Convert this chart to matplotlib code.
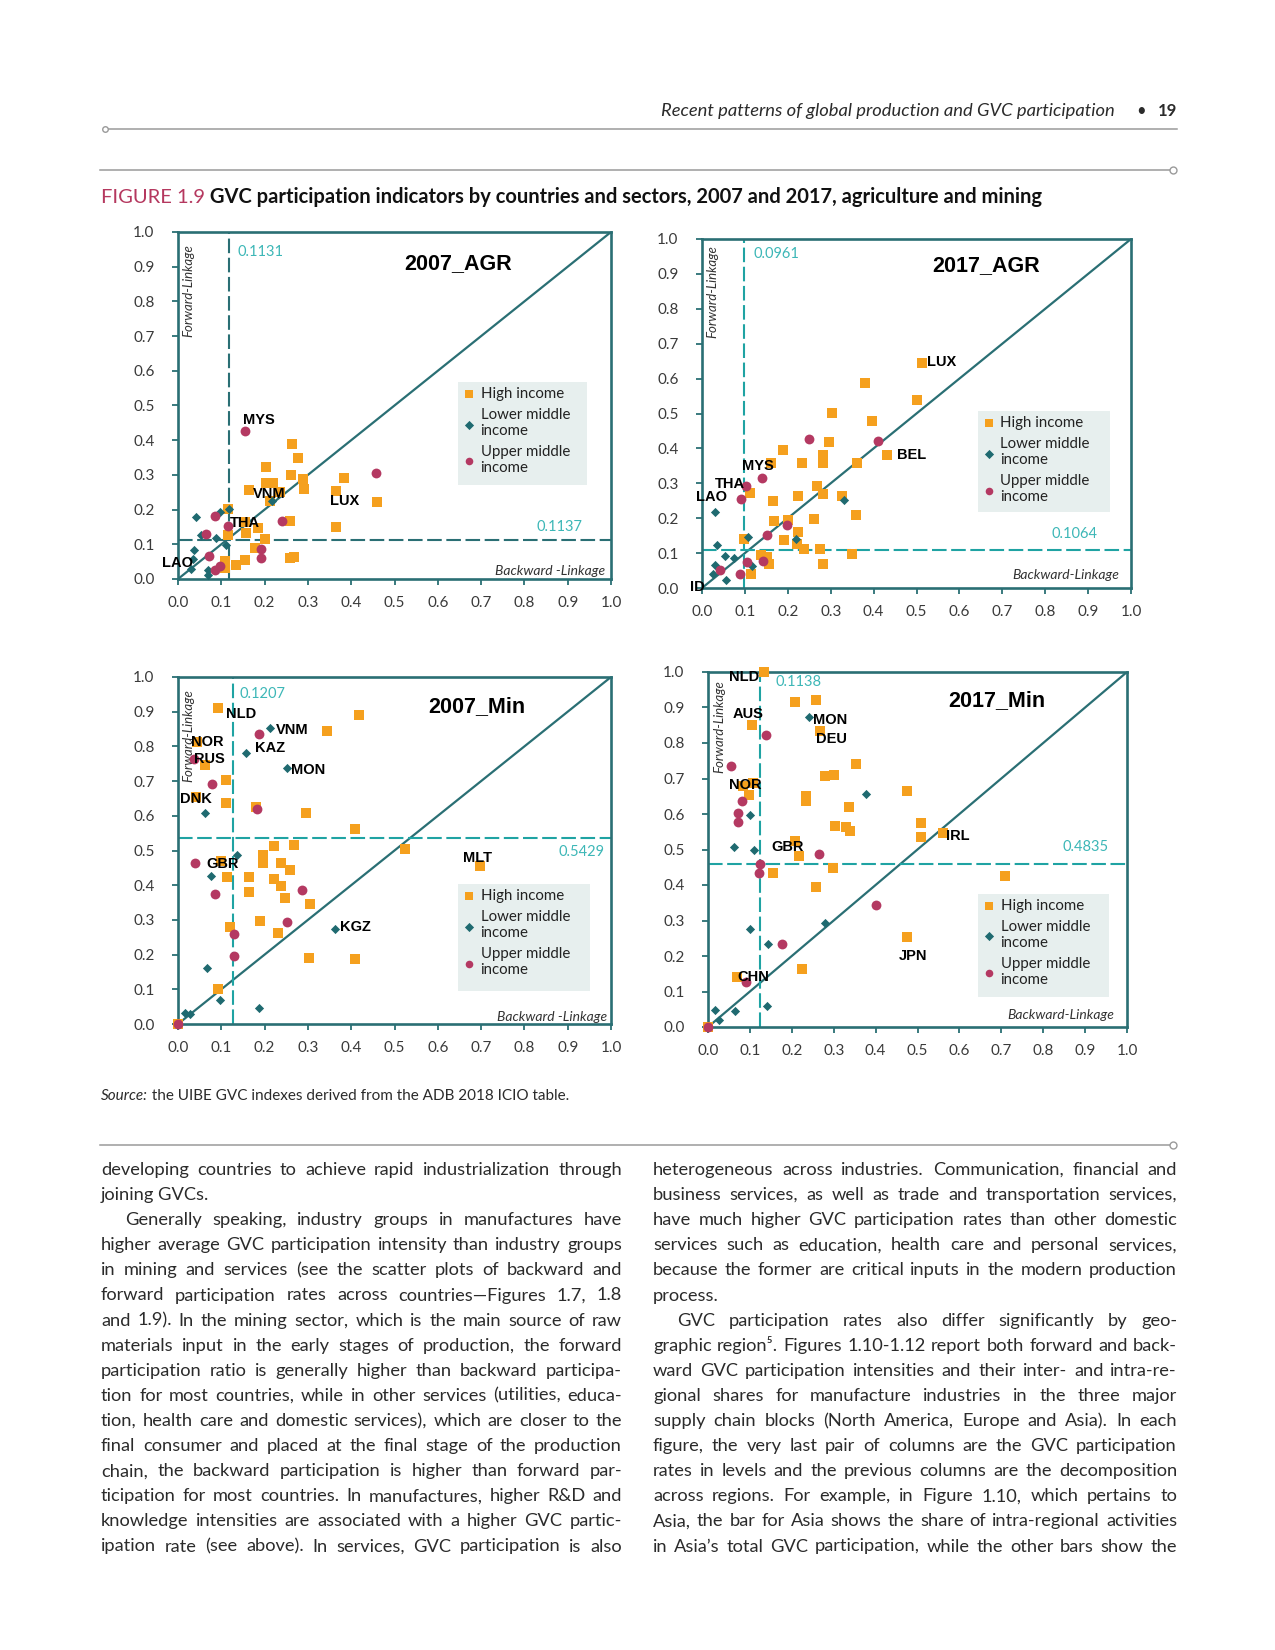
import numpy as np
import matplotlib
matplotlib.use("Agg")
import matplotlib.pyplot as plt
from matplotlib.patches import Rectangle

plt.rcParams['font.family'] = ['Lato', 'DejaVu Sans']

W, H = 1275, 1650

# ---------------- data ----------------
# 2007 agriculture
agr07_high_x = [0.264, 0.278, 0.204, 0.260, 0.204, 0.219, 0.288, 0.292, 0.165, 0.212, 0.235, 0.115, 0.154, 0.185,
                0.258, 0.115, 0.158, 0.200, 0.177, 0.258, 0.269, 0.154, 0.133, 0.108, 0.108, 0.383, 0.364, 0.364, 0.460]
agr07_high_y = [0.390, 0.349, 0.323, 0.301, 0.277, 0.277, 0.287, 0.258, 0.256, 0.224, 0.250, 0.202, 0.163, 0.147,
                0.166, 0.128, 0.133, 0.115, 0.089, 0.061, 0.063, 0.056, 0.041, 0.032, 0.052, 0.291, 0.253, 0.150, 0.221]
agr07_low_x = [0.042, 0.096, 0.118, 0.052, 0.087, 0.112, 0.036, 0.035, 0.031, 0.069, 0.069, 0.218]
agr07_low_y = [0.178, 0.192, 0.202, 0.128, 0.118, 0.099, 0.085, 0.059, 0.029, 0.027, 0.012, 0.224]
agr07_up_x = [0.155, 0.458, 0.085, 0.064, 0.115, 0.241, 0.192, 0.192, 0.072, 0.085, 0.096]
agr07_up_y = [0.426, 0.306, 0.181, 0.130, 0.152, 0.166, 0.087, 0.061, 0.065, 0.027, 0.037]
agr07_names = [("MYS", 0.150, 0.458), ("VNM", 0.173, 0.246), ("THA", 0.119, 0.160),
               ("LUX", 0.350, 0.224), ("LAO", -0.038, 0.046)]

# 2017 agriculture
agr17_high_x = [0.512, 0.379, 0.500, 0.304, 0.396, 0.295, 0.189, 0.283, 0.161, 0.233, 0.281, 0.361, 0.431, 0.269,
                0.111, 0.223, 0.283, 0.326, 0.165, 0.359, 0.167, 0.200, 0.262, 0.223, 0.190, 0.097, 0.221, 0.237,
                0.274, 0.137, 0.151, 0.157, 0.349, 0.282, 0.114]
agr17_high_y = [0.645, 0.586, 0.540, 0.502, 0.479, 0.419, 0.395, 0.381, 0.359, 0.359, 0.357, 0.357, 0.382, 0.293,
                0.271, 0.264, 0.268, 0.264, 0.249, 0.208, 0.192, 0.196, 0.197, 0.161, 0.137, 0.141, 0.127, 0.113,
                0.113, 0.094, 0.089, 0.070, 0.097, 0.068, 0.041]
agr17_low_x = [0.031, 0.035, 0.054, 0.074, 0.031, 0.025, 0.057, 0.107, 0.116, 0.220, 0.332]
agr17_low_y = [0.218, 0.122, 0.091, 0.087, 0.065, 0.039, 0.023, 0.146, 0.063, 0.139, 0.253]
agr17_up_x = [0.249, 0.411, 0.140, 0.103, 0.091, 0.151, 0.198, 0.105, 0.142, 0.088, 0.043]
agr17_up_y = [0.426, 0.422, 0.315, 0.292, 0.256, 0.153, 0.180, 0.075, 0.077, 0.041, 0.051]
agr17_names = [("LUX", 0.524, 0.648), ("BEL", 0.454, 0.382), ("MYS", 0.093, 0.350),
               ("THA", 0.029, 0.299), ("LAO", -0.013, 0.261), ("ID", -0.029, 0.003)]

# 2007 mining
min07_high_x = [0.092, 0.418, 0.344, 0.044, 0.063, 0.112, 0.042, 0.112, 0.181, 0.296, 0.408, 0.525, 0.698, 0.100,
                0.221, 0.268, 0.196, 0.196, 0.238, 0.259, 0.114, 0.165, 0.222, 0.238, 0.165, 0.246, 0.305, 0.190,
                0.119, 0.232, 0.302, 0.408, 0.092, 0.000]
min07_high_y = [0.912, 0.890, 0.845, 0.813, 0.746, 0.702, 0.655, 0.637, 0.626, 0.608, 0.561, 0.504, 0.455, 0.470,
                0.512, 0.515, 0.488, 0.463, 0.464, 0.443, 0.424, 0.424, 0.417, 0.398, 0.381, 0.364, 0.345, 0.297,
                0.280, 0.263, 0.191, 0.187, 0.100, 0.000]
min07_low_x = [0.213, 0.156, 0.252, 0.062, 0.136, 0.077, 0.363, 0.068, 0.096, 0.017, 0.027, 0.186]
min07_low_y = [0.854, 0.781, 0.738, 0.607, 0.488, 0.426, 0.274, 0.160, 0.069, 0.033, 0.029, 0.047]
min07_up_x = [0.186, 0.078, 0.183, 0.040, 0.085, 0.287, 0.252, 0.129, 0.129, 0.000, 0.038]
min07_up_y = [0.837, 0.691, 0.621, 0.464, 0.376, 0.386, 0.293, 0.259, 0.197, 0.000, 0.765]
min07_names = [("NLD", 0.110, 0.894), ("VNM", 0.227, 0.848), ("NOR", 0.031, 0.813), ("RUS", 0.036, 0.765),
               ("KAZ", 0.178, 0.794), ("MON", 0.262, 0.731), ("DNK", 0.004, 0.647), ("GBR", 0.065, 0.460),
               ("MLT", 0.659, 0.477), ("KGZ", 0.375, 0.280)]

# 2017 mining
min17_high_x = [0.134, 0.208, 0.258, 0.104, 0.268, 0.354, 0.280, 0.300, 0.476, 0.084, 0.098, 0.108, 0.234, 0.234,
                0.336, 0.304, 0.330, 0.338, 0.508, 0.508, 0.560, 0.208, 0.218, 0.298, 0.154, 0.258, 0.710, 0.476,
                0.224, 0.070, 0.000]
min17_high_y = [1.000, 0.916, 0.922, 0.850, 0.835, 0.741, 0.706, 0.710, 0.664, 0.678, 0.654, 0.687, 0.650, 0.638,
                0.619, 0.565, 0.563, 0.551, 0.575, 0.535, 0.547, 0.523, 0.481, 0.449, 0.433, 0.394, 0.425, 0.254,
                0.162, 0.140, 0.000]
min17_low_x = [0.242, 0.376, 0.100, 0.062, 0.110, 0.124, 0.100, 0.144, 0.280, 0.016, 0.026, 0.064, 0.140]
min17_low_y = [0.872, 0.656, 0.596, 0.507, 0.500, 0.458, 0.276, 0.234, 0.292, 0.049, 0.021, 0.044, 0.058]
min17_up_x = [0.138, 0.056, 0.082, 0.072, 0.072, 0.266, 0.124, 0.122, 0.402, 0.176, 0.090, 0.000]
min17_up_y = [0.822, 0.734, 0.638, 0.603, 0.578, 0.486, 0.460, 0.435, 0.343, 0.234, 0.126, 0.000]
min17_names = [("NLD", 0.050, 0.986), ("AUS", 0.060, 0.881), ("MON", 0.250, 0.866), ("DEU", 0.258, 0.810),
               ("NOR", 0.050, 0.682), ("GBR", 0.152, 0.507), ("IRL", 0.568, 0.537), ("JPN", 0.456, 0.199),
               ("CHN", 0.070, 0.140)]

panel_titles = ["2007_AGR", "2017_AGR", "2007_Min", "2017_Min"]
cut_v = [0.117, 0.097, 0.126, 0.124]          # where the dashed lines sit
cut_h = [0.112, 0.110, 0.535, 0.458]
cut_v_text = ["0.1131", "0.0961", "0.1207", "0.1138"]
cut_h_text = ["0.1137", "0.1064", "0.5429", "0.4835"]
back_text = ["Backward -Linkage", "Backward-Linkage", "Backward -Linkage", "Backward-Linkage"]

tick_vals = np.round(np.arange(0, 1.01, 0.1), 1)
tick_labels = [f"{v:.1f}" for v in tick_vals]
legend_labels = ["High income", "Lower middle\nincome", "Upper middle\nincome"]

header_text = "Recent patterns of global production and GVC participation"
page_no = "19"
fig_no = "FIGURE 1.9"
fig_title = " GVC participation indicators by countries and sectors, 2007 and 2017, agriculture and mining"
source_rest = " the UIBE GVC indexes derived from the ADB 2018 ICIO table."

left_col = [
    ("developing countries to achieve rapid industrialization through", "j"),
    ("joining GVCs.", "l"),
    ("Generally speaking, industry groups in manufactures have", "ij"),
    ("higher average GVC participation intensity than industry groups", "j"),
    ("in mining and services (see the scatter plots of backward and", "j"),
    ("forward participation rates across countries\u2014Figures 1.7, 1.8", "j"),
    ("and 1.9). In the mining sector, which is the main source of raw", "j"),
    ("materials input in the early stages of production, the forward", "j"),
    ("participation ratio is generally higher than backward participa-", "j"),
    ("tion for most countries, while in other services (utilities, educa-", "j"),
    ("tion, health care and domestic services), which are closer to the", "j"),
    ("final consumer and placed at the final stage of the production", "j"),
    ("chain, the backward participation is higher than forward par-", "j"),
    ("ticipation for most countries. In manufactures, higher R&D and", "j"),
    ("knowledge intensities are associated with a higher GVC partic-", "j"),
    ("ipation rate (see above). In services, GVC participation is also", "j"),
]
right_col = [
    ("heterogeneous across industries. Communication, financial and", "j"),
    ("business services, as well as trade and transportation services,", "j"),
    ("have much higher GVC participation rates than other domestic", "j"),
    ("services such as education, health care and personal services,", "j"),
    ("because the former are critical inputs in the modern production", "j"),
    ("process.", "l"),
    ("GVC participation rates also differ significantly by geo-", "ij"),
    ("graphic region\u2075. Figures 1.10-1.12 report both forward and back-", "j"),
    ("ward GVC participation intensities and their inter- and intra-re-", "j"),
    ("gional shares for manufacture industries in the three major", "j"),
    ("supply chain blocks (North America, Europe and Asia). In each", "j"),
    ("figure, the very last pair of columns are the GVC participation", "j"),
    ("rates in levels and the previous columns are the decomposition", "j"),
    ("across regions. For example, in Figure 1.10, which pertains to", "j"),
    ("Asia, the bar for Asia shows the share of intra-regional activities", "j"),
    ("in Asia\u2019s total GVC participation, while the other bars show the", "j"),
]

# ---------------- styles ----------------
ORANGE = "#f5a01e"
TEAL = "#1f6a70"
CRIMSON = "#b43962"
SPINE = "#2a6f74"
DASH_LIGHT = "#1fa3a3"
CUT_TXT = "#3db7b7"
LEG_BG = "#e7efee"
RULE = "#9a9a9a"
INK = "#2b2b2b"
BOLD_FAM = ["Liberation Sans", "DejaVu Sans"]

fig = plt.figure(figsize=(W / 100, H / 100), dpi=100)
page = fig.add_axes([0, 0, 1, 1])
page.set_xlim(0, W)
page.set_ylim(H, 0)
page.axis("off")
R = fig.canvas.get_renderer()


def width(t):
    return t.get_window_extent(renderer=R).width


def px_rect(l, t, r, b):
    return [l / W, 1 - b / H, (r - l) / W, (b - t) / H]


# ---------------- page furniture ----------------
page.plot([105, 1177], [128.5, 128.5], color=RULE, lw=1.1)
page.plot([105], [128.5], marker="o", ms=4, mfc="white", mec=RULE, mew=1)
page.plot([100, 1173], [170, 170], color=RULE, lw=1.1)
page.plot([1173], [170], marker="o", ms=5, mfc="white", mec=RULE, mew=1)
page.plot([100, 1173], [1145, 1145], color=RULE, lw=1.1)
page.plot([1173], [1145], marker="o", ms=5, mfc="white", mec=RULE, mew=1)

hd = page.text(1115, 116, header_text, ha="right", va="baseline", style="italic", fontsize=11, color=INK)
hd.set_fontsize(11 * 454 / width(hd))
page.text(1141, 116, "\u2022", ha="center", va="baseline", fontsize=12, color=INK)
page.text(1177, 116, page_no, ha="right", va="baseline", fontsize=12, fontweight="bold", color=INK)

t1 = page.text(101, 203, fig_no, ha="left", va="baseline", fontsize=13, color="#b5385f")
t2 = page.text(101, 203, fig_title, ha="left", va="baseline", fontsize=13, fontweight="bold", color="#111111")
k = 940 / (width(t1) + width(t2))
t1.set_fontsize(13 * k)
t2.set_fontsize(13 * k)
t2.set_x(101 + width(t1))

s1 = page.text(101, 1100, "Source:", ha="left", va="baseline", style="italic", fontsize=10, color=INK)
s2 = page.text(101, 1100, source_rest, ha="left", va="baseline", fontsize=10, color=INK)
k = 468 / (width(s1) + width(s2))
s1.set_fontsize(10 * k)
s2.set_fontsize(10 * k)
s2.set_x(101 + width(s1))

# ---------------- body text, justified ----------------
cols = [(101, 622, left_col), (653, 1177, right_col)]
base_fs = 12
ratio = 0
for x0, x1, lines in cols:
    for s, mode in lines:
        t = page.text(0, 0, s, fontsize=base_fs)
        ind = 24 if "i" in mode else 0
        ratio = max(ratio, width(t) / (x1 - x0 - ind))
        t.remove()
body_fs = base_fs * 0.985 / ratio

for x0, x1, lines in cols:
    for i, (s, mode) in enumerate(lines):
        y = 1175 + 25.1 * i
        ind = 24 if "i" in mode else 0
        if "j" not in mode:
            page.text(x0 + ind, y, s, fontsize=body_fs, ha="left", va="baseline", color=INK)
            continue
        words = s.split(" ")
        ts = [page.text(0, y, w_, fontsize=body_fs, ha="left", va="baseline", color=INK) for w_ in words]
        ws = [width(t) for t in ts]
        gap = (x1 - x0 - ind - sum(ws)) / (len(words) - 1)
        x = x0 + ind
        for t, w_ in zip(ts, ws):
            t.set_x(x)
            x += w_ + gap

# ---------------- the four scatter panels ----------------
panels = [
    dict(box=(178, 232, 611, 579), hi=(agr07_high_x, agr07_high_y), lo=(agr07_low_x, agr07_low_y),
         up=(agr07_up_x, agr07_up_y), names=agr07_names, title_xy=(0.647, 0.908), dash=SPINE,
         vt_xy=(0.138, 0.942), ht_xy=(0.935, 0.150), fw_xy=(0.025, 0.964), bk_xy=(0.986, 0.024),
         leg=(0.647, 0.270, 0.944, 0.568)),
    dict(box=(702, 239, 1131, 588), hi=(agr17_high_x, agr17_high_y), lo=(agr17_low_x, agr17_low_y),
         up=(agr17_up_x, agr17_up_y), names=agr17_names, title_xy=(0.662, 0.923), dash=DASH_LIGHT,
         vt_xy=(0.120, 0.956), ht_xy=(0.923, 0.155), fw_xy=(0.023, 0.983), bk_xy=(0.972, 0.036),
         leg=(0.643, 0.218, 0.950, 0.507)),
    dict(box=(178, 677, 611, 1024), hi=(min07_high_x, min07_high_y), lo=(min07_low_x, min07_low_y),
         up=(min07_up_x, min07_up_y), names=min07_names, title_xy=(0.690, 0.914), dash=DASH_LIGHT,
         vt_xy=(0.141, 0.952), ht_xy=(0.984, 0.496), fw_xy=(0.025, 0.966), bk_xy=(0.990, 0.021),
         leg=(0.647, 0.095, 0.951, 0.403)),
    dict(box=(708, 672, 1127, 1027), hi=(min17_high_x, min17_high_y), lo=(min17_low_x, min17_low_y),
         up=(min17_up_x, min17_up_y), names=min17_names, title_xy=(0.690, 0.920), dash=DASH_LIGHT,
         vt_xy=(0.160, 0.972), ht_xy=(0.957, 0.508), fw_xy=(0.028, 0.977), bk_xy=(0.969, 0.035),
         leg=(0.645, 0.085, 0.957, 0.376)),
]

for i, p in enumerate(panels):
    ax = fig.add_axes(px_rect(*p["box"]))
    ax.set_facecolor("none")
    ax.set_xlim(0, 1)
    ax.set_ylim(0, 1)
    for sp in ax.spines.values():
        sp.set_color(SPINE)
        sp.set_linewidth(1.9)
    ax.set_xticks(tick_vals)
    ax.set_xticklabels(tick_labels)
    ax.set_yticks(tick_vals)
    ax.set_yticklabels(tick_labels)
    ax.tick_params(axis="x", length=4, width=1.3, color=SPINE, pad=8, labelsize=11, labelcolor="#3a3a3a")
    ax.tick_params(axis="y", length=4, width=1.3, color=SPINE, pad=13, labelsize=11, labelcolor="#3a3a3a")

    ax.plot([0, 1], [0, 1], color=SPINE, lw=1.6, zorder=2)
    ax.axvline(cut_v[i], color=p["dash"], lw=1.5, ls=(0, (7, 2.2)), zorder=2)
    ax.axhline(cut_h[i], color=p["dash"], lw=1.5, ls=(0, (7, 2.2)), zorder=2)

    lx0, ly0, lx1, ly1 = p["leg"]
    ax.add_patch(Rectangle((lx0, ly0), lx1 - lx0, ly1 - ly0, facecolor=LEG_BG, edgecolor="none", zorder=1))

    h1 = ax.scatter(*p["hi"], marker="s", s=52, color=ORANGE, lw=0, zorder=3, clip_on=False)
    h2 = ax.scatter(*p["lo"], marker="D", s=22, color=TEAL, lw=0, zorder=4, clip_on=False)
    h3 = ax.scatter(*p["up"], marker="o", s=50, color=CRIMSON, lw=0, zorder=5, clip_on=False)

    for name, x, y in p["names"]:
        ax.text(x, y, name, fontsize=10.5, fontweight="bold", family=BOLD_FAM, ha="left", va="center",
                color="black", zorder=6, clip_on=False)

    ax.text(*p["title_xy"], panel_titles[i], fontsize=15.5, fontweight="bold", family=BOLD_FAM,
            ha="center", va="center", color="black")
    ax.text(*p["vt_xy"], cut_v_text[i], fontsize=10.5, color=CUT_TXT, ha="left", va="center")
    ax.text(*p["ht_xy"], cut_h_text[i], fontsize=10.5, color=CUT_TXT, ha="right", va="center")
    ax.text(*p["fw_xy"], "Forward-Linkage", fontsize=9.5, style="italic", rotation=90, ha="center",
            va="top", color="#333333")
    ax.text(*p["bk_xy"], back_text[i], fontsize=10, style="italic", ha="right", va="center", color="#333333")

    leg = ax.legend([h1, h2, h3], legend_labels, loc="upper left", bbox_to_anchor=(lx0 + 0.012, ly1 - 0.015),
                    frameon=False, fontsize=10.8, handlelength=0.8, handletextpad=0.35,
                    labelspacing=0.45, borderaxespad=0, borderpad=0, labelcolor="#222222")
    for hnd, sz in zip(leg.legend_handles, [30, 22, 30]):
        hnd.set_sizes([sz])

fig.savefig("out.png", dpi=100)
